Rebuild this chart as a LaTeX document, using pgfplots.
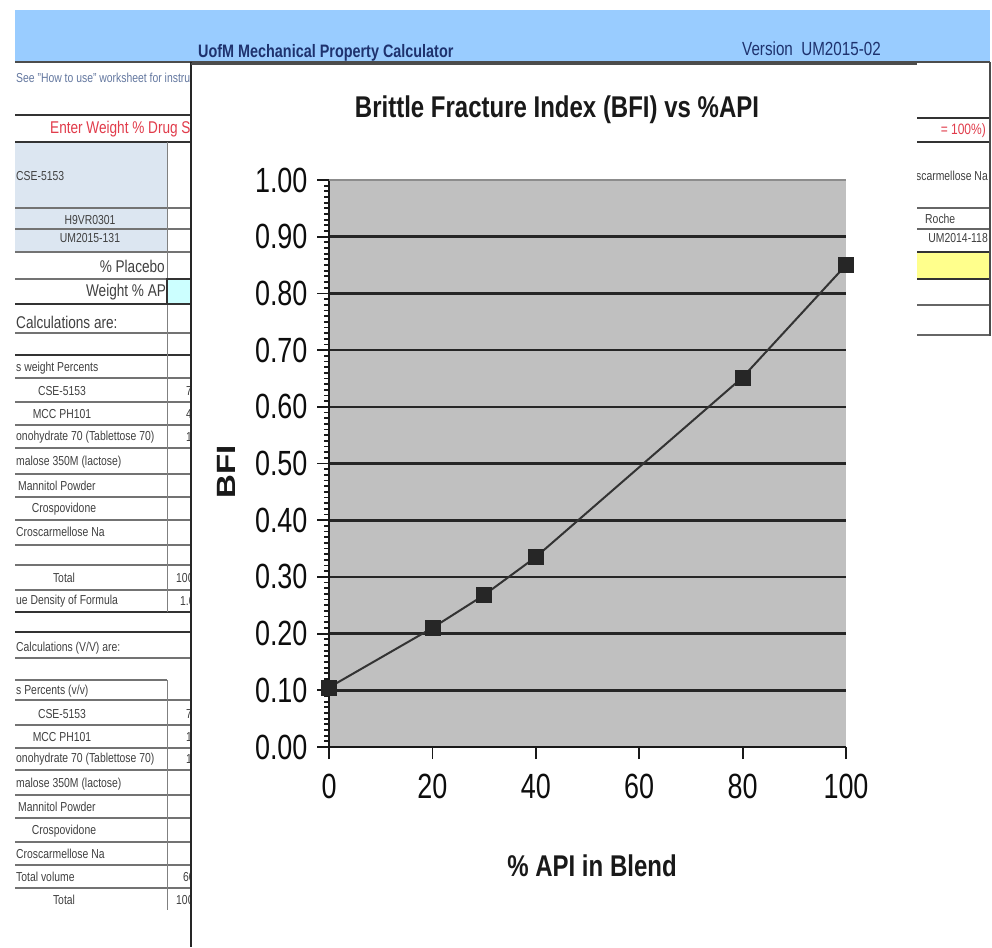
\documentclass[border=0pt]{standalone}
\usepackage{fontspec}
\setmainfont{Liberation Sans}[FakeStretch=0.8]
\newfontfamily\plainsans{Liberation Sans}
\newfontfamily\tickfont{Liberation Sans}[FakeStretch=0.77]
\usepackage{pgfplots}
\pgfplotsset{compat=1.18}
\definecolor{hdrblue}{RGB}{153,204,255}
\definecolor{hdrtext}{RGB}{30,50,110}
\definecolor{cellblue}{RGB}{220,230,241}
\definecolor{cellcyan}{RGB}{204,255,255}
\definecolor{cellyellow}{RGB}{255,255,140}
\definecolor{redtext}{RGB}{225,60,75}
\definecolor{bggray}{RGB}{192,192,192}
\definecolor{seetext}{RGB}{100,120,160}
\begin{document}
\begin{tikzpicture}
\begin{scope}[x=1pt,y=-1pt]
\path[use as bounding box, fill=white] (0,0) rectangle (992,947);
% ---------- header band
\fill[hdrblue] (15,10) rectangle (990,62);
\draw[line width=2.5pt, black!70] (15,62) -- (990,62);
\node[anchor=base west, inner sep=0, text=hdrtext, font=\fontsize{18}{20}\selectfont\bfseries] at (198,58) {UofM Mechanical Property Calculator};
\node[anchor=base west, inner sep=0, text=hdrtext, font=\fontsize{19}{22}\selectfont] at (742,56) {Version\ \ UM2015-02};
% ---------- left spreadsheet
\fill[cellblue] (15,142) rectangle (167,252);
\foreach \yy in {208,229,252,279,333,378,402,425,448,474,497,520,545,565,590,658,700,725,748,770,795,818,842,865,888}
  \draw[line width=1.6pt, black!55] (15,\yy) -- (191,\yy);
\draw[line width=1.6pt, black!55] (15,680) -- (167,680);
\foreach \yy in {115,142,304,355,612,632}
  \draw[line width=2.8pt, black!80] (15,\yy) -- (191,\yy);
\draw[line width=1pt, black!50] (167,142) -- (167,612);
\draw[line width=1pt, black!50] (167,680) -- (167,910);
\begin{scope}[every node/.style={inner sep=0, text=black!75, font=\fontsize{13}{15}\selectfont}]
\node[anchor=west, text=seetext] at (16,78) {See "How to use" worksheet for instructions};
\node[anchor=west, text=redtext, font=\fontsize{17}{19}\selectfont] at (50,129) {Enter Weight \% Drug Substance};
\node[anchor=west] at (16,176) {CSE-5153};
\node at (90,220) {H9VR0301};
\node at (90,238) {UM2015-131};
\node[anchor=east, font=\fontsize{17}{19}\selectfont] at (165,266) {\% Placebo};
\node[anchor=east, font=\fontsize{17}{19}\selectfont] at (170,292) {Weight \% API};
\node[anchor=west, font=\fontsize{17}{19}\selectfont] at (16,322) {Calculations are:};
\node[anchor=west] at (16,368) {s weight Percents};
\node at (62,391) {CSE-5153};
\node at (62,414) {MCC PH101};
\node[anchor=west] at (16,437) {onohydrate 70 (Tablettose 70)};
\node[anchor=west] at (16,462) {malose 350M (lactose)};
\node[anchor=west] at (18,486) {Mannitol Powder};
\node at (64,509) {Crospovidone};
\node[anchor=west] at (16,532) {Croscarmellose Na};
\node at (64,578) {Total};
\node[anchor=west] at (16,601) {ue Density of Formula};
\node[anchor=west] at (16,648) {Calculations (V/V) are:};
\node[anchor=west] at (16,691) {s Percents (v/v)};
\node at (62,714) {CSE-5153};
\node at (62,737) {MCC PH101};
\node[anchor=west] at (16,759) {onohydrate 70 (Tablettose 70)};
\node[anchor=west] at (16,784) {malose 350M (lactose)};
\node[anchor=west] at (18,807) {Mannitol Powder};
\node at (64,831) {Crospovidone};
\node[anchor=west] at (16,854) {Croscarmellose Na};
\node[anchor=west] at (16,877) {Total volume};
\node at (64,900) {Total};
\node[anchor=west] at (186,391) {7};
\node[anchor=west] at (186,414) {4};
\node[anchor=west] at (186,437) {1};
\node[anchor=west] at (176,578) {100};
\node[anchor=west] at (180,601) {1.0};
\node[anchor=west] at (186,714) {7};
\node[anchor=west] at (186,737) {1};
\node[anchor=west] at (186,759) {1};
\node[anchor=west] at (183,877) {60};
\node[anchor=west] at (176,900) {100};
\end{scope}
\fill[cellcyan, draw=black!80, line width=1.5pt] (167,279) rectangle (194,304);
% ---------- right spreadsheet
\fill[cellyellow] (917,252) rectangle (990,279);
\foreach \yy in {118,142,252,279}
  \draw[line width=2.8pt, black!80] (917,\yy) -- (990,\yy);
\foreach \yy in {208,229,305,335}
  \draw[line width=1.6pt, black!60] (917,\yy) -- (990,\yy);
\draw[line width=1.6pt, black!70] (990,62) -- (990,336);
\begin{scope}[every node/.style={inner sep=0, text=black!75, font=\fontsize{13}{15}\selectfont}]
\node[anchor=east, text=redtext, font=\fontsize{15}{17}\selectfont] at (986,131) {= 100\%)};
\node[anchor=east] at (988,176) {Croscarmellose Na};
\node[anchor=west] at (925,219) {Roche};
\node[anchor=east] at (988,238) {UM2014-118};
\end{scope}
% ---------- chart panel
\fill[white] (191,64) rectangle (917,947);
\draw[line width=2.8pt, black!85] (191,62) -- (191,947);
\draw[line width=2pt, black!70] (191,64) -- (917,64);
% titles
\node[inner sep=0, text=black!90, font=\fontsize{30}{34}\selectfont\bfseries] at (557,110) {Brittle Fracture Index (BFI) vs \%API};
\node[inner sep=0, text=black!90, font=\fontsize{30}{34}\selectfont\bfseries] at (592,866) {\% API in Blend};
\node[inner sep=0, rotate=90, text=black!90] at (226,472) {\scalebox{1}[0.8]{\plainsans\bfseries\fontsize{33}{36}\selectfont BFI}};
\end{scope}
\begin{axis}[
  at={(329pt,-747pt)}, anchor=south west,
  scale only axis, width=517pt, height=567pt,
  xmin=0, xmax=100, ymin=0, ymax=1,
  xtick={0,20,40,60,80,100},
  ytick={0,0.1,0.2,0.3,0.4,0.5,0.6,0.7,0.8,0.9},
  yticklabels={0.00,0.10,0.20,0.30,0.40,0.50,0.60,0.70,0.80,0.90},
  extra y ticks={1},
  extra y tick labels={1.00},
  extra y tick style={major grid style={line width=1.5pt, black!45}},
  minor ytick={0,0.01,...,1},
  axis background/.style={fill=bggray},
  ymajorgrids,
  major grid style={line width=2.6pt, black!85},
  axis x line*=bottom, axis y line*=left,
  axis line style={line width=2.8pt, black!90},
  tick style={line width=1.8pt, black!90},
  tick align=outside,
  major tick length=12pt,
  minor tick length=5pt,
  /pgf/number format/assume math mode=true,
  ticklabel style={text=black!95, font=\tickfont\fontsize{35}{40}\selectfont},
  yticklabel style={xshift=-6pt},
  xticklabel style={yshift=-12pt},
  clip=false,
]
\addplot[line width=2pt, black!80, mark=square*, mark size=7.5pt,
  mark options={fill=black!85, draw=black!85, line width=0.5pt}]
  coordinates {(0,0.105) (20,0.210) (30,0.268) (40,0.335) (80,0.652) (100,0.850)};
\end{axis}
\end{tikzpicture}
\end{document}
